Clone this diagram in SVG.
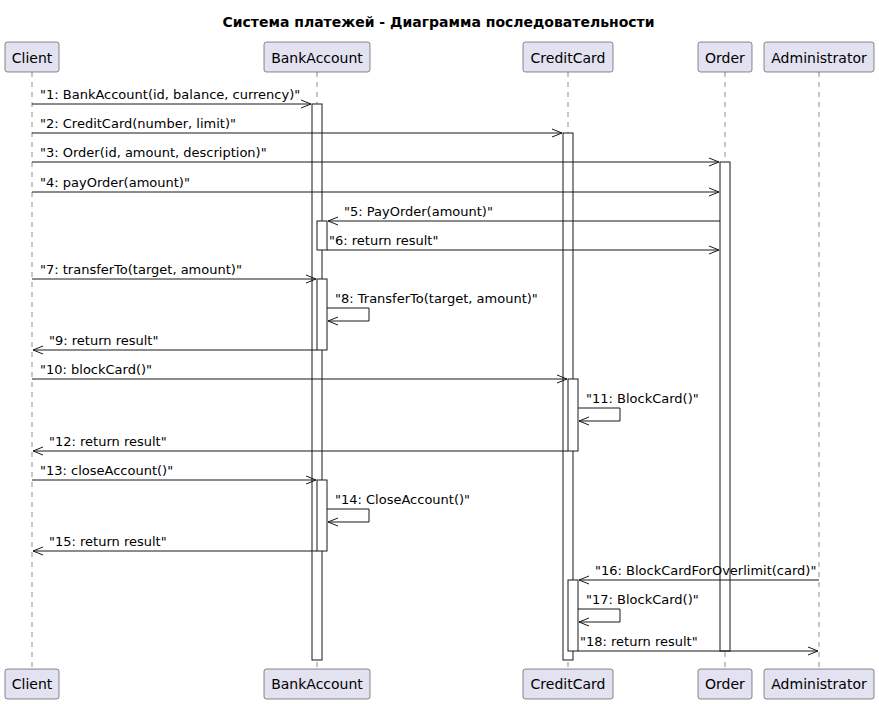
<svg xmlns="http://www.w3.org/2000/svg" width="879" height="704" viewBox="0 0 879 704">
<style>
.title{font-family:"DejaVu Sans",sans-serif;font-size:14px;font-weight:bold;fill:#000}
.pbox{fill:#E2E2F0;stroke:#181818;stroke-width:0.5}
.ptxt{font-family:"DejaVu Sans",sans-serif;font-size:14px;fill:#000;text-anchor:middle}
.life{stroke:#181818;stroke-width:0.5;stroke-dasharray:5,5;fill:none}
.act{fill:#FFFFFF;stroke:#181818;stroke-width:1}
.msg{stroke:#181818;stroke-width:1;fill:none}
.mtxt{font-family:"DejaVu Sans",sans-serif;font-size:13px;fill:#000}
</style>
<rect width="879" height="704" fill="#FFFFFF"/>
<text class="title" x="438.5" y="27" text-anchor="middle">Система платежей - Диаграмма последовательности</text>
<g id="lifelines">
<line class="life" x1="32" y1="72" x2="32" y2="669"/>
<line class="life" x1="317" y1="72" x2="317" y2="669"/>
<line class="life" x1="568" y1="72" x2="568" y2="669"/>
<line class="life" x1="725" y1="72" x2="725" y2="669"/>
<line class="life" x1="819" y1="72" x2="819" y2="669"/>
</g>
<g id="activations">
<rect class="act" x="312" y="104" width="10" height="556"/>
<rect class="act" x="317" y="221" width="10" height="29"/>
<rect class="act" x="317" y="279" width="10" height="71"/>
<rect class="act" x="317" y="480" width="10" height="71"/>
<rect class="act" x="563" y="133" width="10" height="527"/>
<rect class="act" x="568" y="379" width="10" height="72"/>
<rect class="act" x="568" y="580" width="10" height="71"/>
<rect class="act" x="720" y="162" width="10" height="489"/>
</g>
<g id="Client">
<rect class="pbox" x="5" y="42" width="54" height="30" rx="2.5"/>
<text class="ptxt" x="32" y="62.5">Client</text>
<rect class="pbox" x="5" y="669" width="54" height="30" rx="2.5"/>
<text class="ptxt" x="32" y="689">Client</text>
</g>
<g id="BankAccount">
<rect class="pbox" x="264" y="42" width="106" height="30" rx="2.5"/>
<text class="ptxt" x="317" y="62.5">BankAccount</text>
<rect class="pbox" x="264" y="669" width="106" height="30" rx="2.5"/>
<text class="ptxt" x="317" y="689">BankAccount</text>
</g>
<g id="CreditCard">
<rect class="pbox" x="523" y="42" width="90" height="30" rx="2.5"/>
<text class="ptxt" x="568" y="62.5">CreditCard</text>
<rect class="pbox" x="523" y="669" width="90" height="30" rx="2.5"/>
<text class="ptxt" x="568" y="689">CreditCard</text>
</g>
<g id="Order">
<rect class="pbox" x="698" y="42" width="54" height="30" rx="2.5"/>
<text class="ptxt" x="725" y="62.5">Order</text>
<rect class="pbox" x="698" y="669" width="54" height="30" rx="2.5"/>
<text class="ptxt" x="725" y="689">Order</text>
</g>
<g id="Administrator">
<rect class="pbox" x="764" y="42" width="110" height="30" rx="2.5"/>
<text class="ptxt" x="819" y="62.5">Administrator</text>
<rect class="pbox" x="764" y="669" width="110" height="30" rx="2.5"/>
<text class="ptxt" x="819" y="689">Administrator</text>
</g>
<g id="connectors">
<line class="msg" x1="32" y1="104" x2="311" y2="104"/><polyline class="msg" points="301,100 311,104 301,108"/>
<text class="mtxt" x="40" y="99">"1: BankAccount(id, balance, currency)"</text>
<line class="msg" x1="32" y1="133" x2="562" y2="133"/><polyline class="msg" points="552,129 562,133 552,137"/>
<text class="mtxt" x="40" y="128">"2: CreditCard(number, limit)"</text>
<line class="msg" x1="32" y1="162" x2="719" y2="162"/><polyline class="msg" points="709,158 719,162 709,166"/>
<text class="mtxt" x="40" y="157">"3: Order(id, amount, description)"</text>
<line class="msg" x1="32" y1="192" x2="719" y2="192"/><polyline class="msg" points="709,188 719,192 709,196"/>
<text class="mtxt" x="40" y="187">"4: payOrder(amount)"</text>
<line class="msg" x1="720" y1="221" x2="328" y2="221"/><polyline class="msg" points="338,217 328,221 338,225"/>
<text class="mtxt" x="344" y="216">"5: PayOrder(amount)"</text>
<line class="msg" x1="327" y1="250" x2="719" y2="250"/><polyline class="msg" points="709,246 719,250 709,254"/>
<text class="mtxt" x="329" y="245">"6: return result"</text>
<line class="msg" x1="32" y1="279" x2="316" y2="279"/><polyline class="msg" points="306,275 316,279 306,283"/>
<text class="mtxt" x="40" y="274">"7: transferTo(target, amount)"</text>
<polyline class="msg" points="327,308 369,308 369,321 328,321"/><polyline class="msg" points="338,317 328,321 338,325"/>
<text class="mtxt" x="335" y="303">"8: TransferTo(target, amount)"</text>
<line class="msg" x1="317" y1="350" x2="33" y2="350"/><polyline class="msg" points="43,346 33,350 43,354"/>
<text class="mtxt" x="49" y="345">"9: return result"</text>
<line class="msg" x1="32" y1="379" x2="567" y2="379"/><polyline class="msg" points="557,375 567,379 557,383"/>
<text class="mtxt" x="40" y="374">"10: blockCard()"</text>
<polyline class="msg" points="578,408 620,408 620,421 579,421"/><polyline class="msg" points="589,417 579,421 589,425"/>
<text class="mtxt" x="586" y="403">"11: BlockCard()"</text>
<line class="msg" x1="568" y1="451" x2="33" y2="451"/><polyline class="msg" points="43,447 33,451 43,455"/>
<text class="mtxt" x="49" y="446">"12: return result"</text>
<line class="msg" x1="32" y1="480" x2="316" y2="480"/><polyline class="msg" points="306,476 316,480 306,484"/>
<text class="mtxt" x="40" y="475">"13: closeAccount()"</text>
<polyline class="msg" points="327,509 369,509 369,522 328,522"/><polyline class="msg" points="338,518 328,522 338,526"/>
<text class="mtxt" x="335" y="504">"14: CloseAccount()"</text>
<line class="msg" x1="317" y1="551" x2="33" y2="551"/><polyline class="msg" points="43,547 33,551 43,555"/>
<text class="mtxt" x="49" y="546">"15: return result"</text>
<line class="msg" x1="819" y1="580" x2="579" y2="580"/><polyline class="msg" points="589,576 579,580 589,584"/>
<text class="mtxt" x="595" y="575">"16: BlockCardForOverlimit(card)"</text>
<polyline class="msg" points="578,609 620,609 620,622 579,622"/><polyline class="msg" points="589,618 579,622 589,626"/>
<text class="mtxt" x="586" y="604">"17: BlockCard()"</text>
<line class="msg" x1="578" y1="651" x2="818" y2="651"/><polyline class="msg" points="808,647 818,651 808,655"/>
<text class="mtxt" x="580" y="646">"18: return result"</text>
</g>
</svg>
